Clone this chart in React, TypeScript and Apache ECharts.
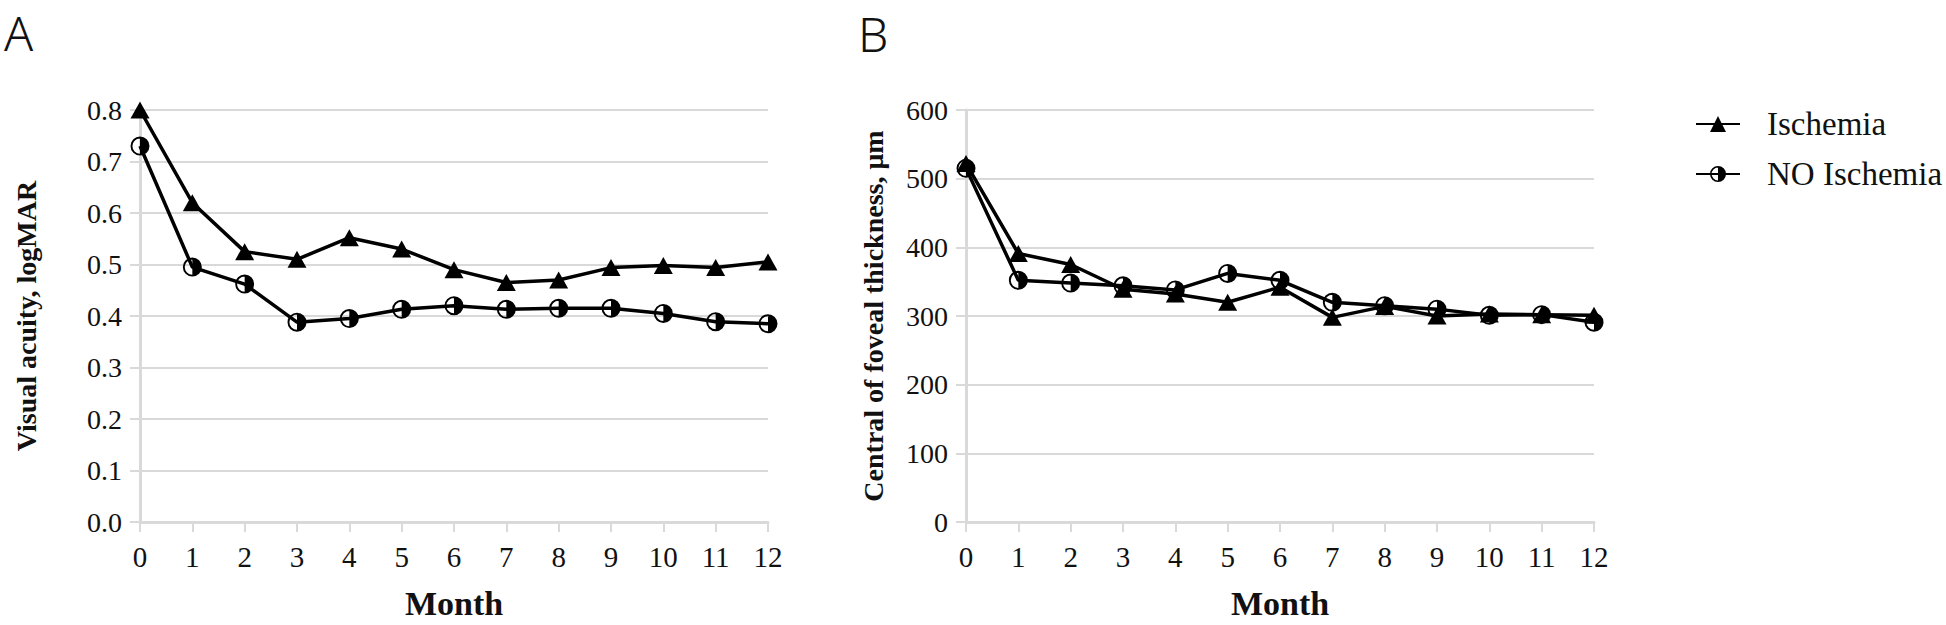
import React, { useEffect, useRef } from "react";
import * as echarts from "echarts";

const months = ["0", "1", "2", "3", "4", "5", "6", "7", "8", "9", "10", "11", "12"];
const seriesNames = ["Ischemia", "NO Ischemia"];
const vaIschemia = [0.8, 0.62, 0.525, 0.51, 0.552, 0.53, 0.49, 0.465, 0.47, 0.494, 0.498, 0.494, 0.505];
const vaNoIschemia = [0.73, 0.495, 0.462, 0.388, 0.395, 0.413, 0.42, 0.413, 0.415, 0.415, 0.405, 0.389, 0.385];
const cftIschemia = [522, 391, 375, 339, 332, 320, 342, 298, 314, 300, 303, 302, 301];
const cftNoIschemia = [515, 352, 348, 344, 338, 362, 352, 320, 315, 310, 301, 302, 291];
const yTitleA = "Visual acuity, logMAR";
const yTitleB = "Central of foveal thickness, μm";
const xTitle = "Month";
const panelLabels = ["A", "B"];

const SERIF = '"Liberation Serif", "Times New Roman", serif';
const GRID_GRAY = "#d9d9d9";
const HALF_CIRCLE =
  "path://M0,-10 A10,10 0 1,1 0,10 A10,10 0 1,1 0,-10 Z M0,-8 A8,8 0 1,0 0,8 A8,8 0 1,0 0,-8 Z M0,-10 A10,10 0 0,1 0,10 Z";

export default function App() {
  const ref = useRef<HTMLDivElement>(null);
  useEffect(() => {
    if (!ref.current) return;
    const chart = echarts.init(ref.current, null, { renderer: "svg" });
    const xAxisBase = (gridIndex: number) => ({
      type: "category",
      gridIndex,
      data: months,
      boundaryGap: false,
      axisLine: { show: true, lineStyle: { color: GRID_GRAY, width: 3 } },
      axisTick: { show: true, length: 10, alignWithLabel: true, lineStyle: { color: GRID_GRAY, width: 2 } },
      axisLabel: { color: "#111", fontFamily: SERIF, fontSize: 29, margin: 20 },
      splitLine: { show: false },
      name: xTitle,
      nameLocation: "middle",
      nameGap: 64,
      nameTextStyle: { color: "#111", fontFamily: SERIF, fontSize: 34, fontWeight: "bold" },
    });
    const yAxisBase = (gridIndex: number, max: number, interval: number, title: string, gap: number, fmt: (v: number) => string) => ({
      type: "value",
      gridIndex,
      min: 0,
      max,
      interval,
      axisLine: { show: true, lineStyle: { color: GRID_GRAY, width: 3 } },
      axisTick: { show: true, length: 10, lineStyle: { color: GRID_GRAY, width: 2 } },
      axisLabel: { color: "#111", fontFamily: SERIF, fontSize: 28, margin: 18, formatter: fmt },
      splitLine: { show: true, lineStyle: { color: GRID_GRAY, width: 2 } },
      name: title,
      nameLocation: "middle",
      nameGap: gap,
      nameTextStyle: { color: "#111", fontFamily: SERIF, fontSize: 28, fontWeight: "bold" },
    });
    const lineSeries = (name: string, data: number[], idx: number, tri: boolean) => ({
      name,
      type: "line",
      xAxisIndex: idx,
      yAxisIndex: idx,
      data,
      symbol: tri ? "triangle" : HALF_CIRCLE,
      symbolSize: tri ? [19, 17] : 19,
      lineStyle: { color: "#000", width: 3.5 },
      itemStyle: { color: "#000", borderWidth: 0 },
      z: tri ? 3 : 2,
    });
    const panelStyle = { fontFamily: '"Noto Sans", sans-serif', fontWeight: 300, fontSize: 48, fill: "#111", verticalAlign: "top", align: "left" };
    chart.setOption({
      animation: false,
      backgroundColor: "#fff",
      grid: [
        { left: 140, top: 110, width: 628, height: 417 },
        { left: 966, top: 110, width: 628, height: 417 },
      ],
      xAxis: [xAxisBase(0), xAxisBase(1)],
      yAxis: [
        yAxisBase(0, 0.8, 0.1, yTitleA, 100, (v: number) => v.toFixed(1)),
        yAxisBase(1, 600, 100, yTitleB, 79, (v: number) => String(v)),
      ],
      legend: {
        data: seriesNames,
        orient: "vertical",
        left: 1690,
        top: 102,
        itemWidth: 44,
        itemHeight: 20,
        itemGap: 16,
        textStyle: { color: "#111", fontFamily: SERIF, fontSize: 33, lineHeight: 34, padding: [0, 0, 0, 22] },
      },
      graphic: [
        { type: "text", x: 4, y: 8, style: { ...panelStyle, text: panelLabels[0] } },
        { type: "text", x: 858, y: 9, style: { ...panelStyle, text: panelLabels[1] } },
      ],
      series: [
        lineSeries(seriesNames[0], vaIschemia, 0, true),
        lineSeries(seriesNames[1], vaNoIschemia, 0, false),
        lineSeries(seriesNames[0], cftIschemia, 1, true),
        lineSeries(seriesNames[1], cftNoIschemia, 1, false),
      ],
    });
    return () => chart.dispose();
  }, []);
  return <div ref={ref} style={{ position: "absolute", left: 0, top: 0, width: 1946, height: 625 }} />;
}
